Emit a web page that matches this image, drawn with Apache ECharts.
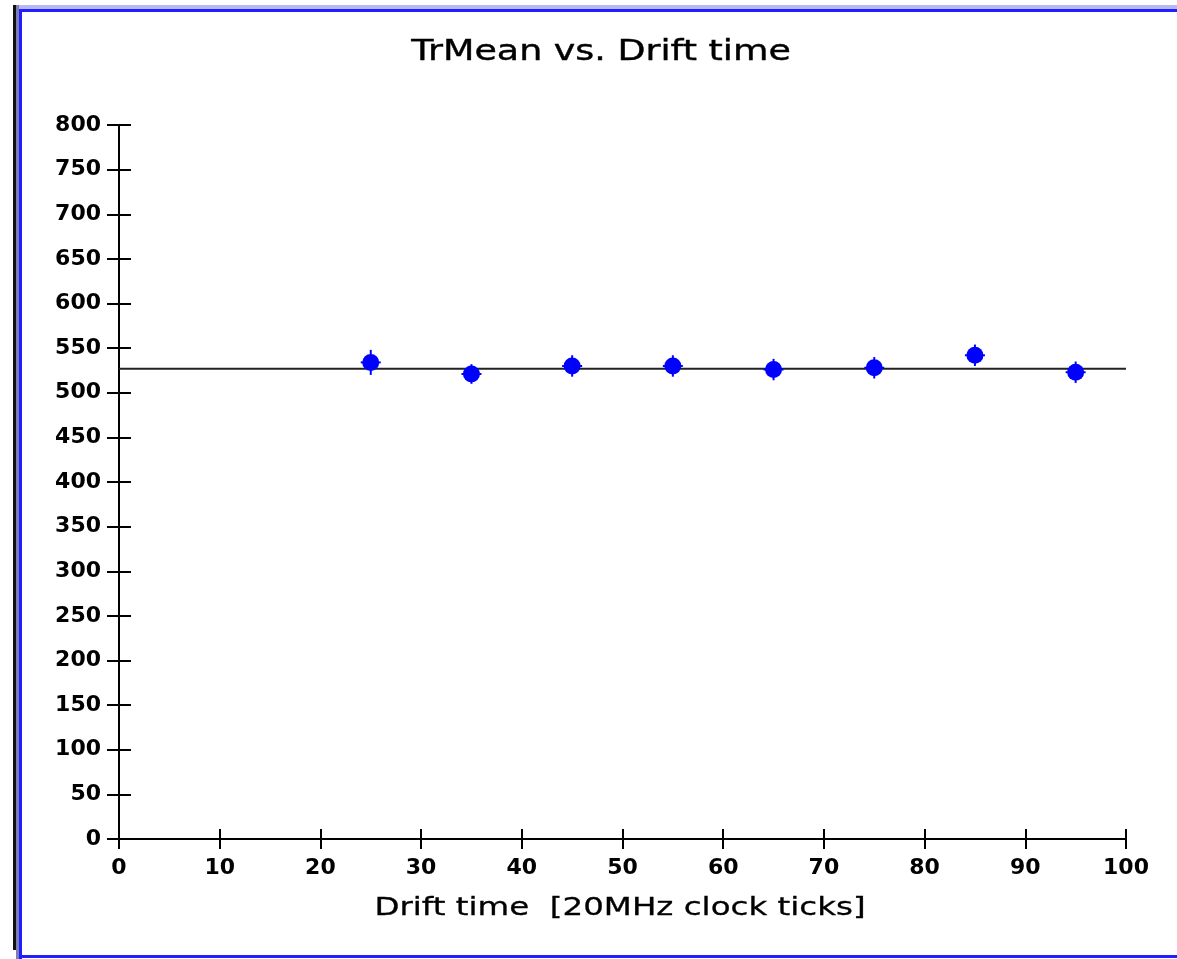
<!DOCTYPE html>
<html>
<head>
<meta charset="utf-8">
<script src="https://cdn.jsdelivr.net/npm/echarts@6/dist/echarts.min.js"></script>
<style>
html,body{margin:0;padding:0;background:#fff;}
#wrap{position:relative;width:1177px;height:959px;overflow:hidden;background:#fff;}
#chart{position:absolute;left:0;top:0;width:1177px;height:959px;}
.fr{position:absolute;}
</style>
</head>
<body>
<div id="wrap">
<div id="chart"></div>
<div class="fr" style="left:13px;top:5px;width:1164px;height:4px;background:#b8b8f4;"></div>
<div class="fr" style="left:19px;top:9px;width:1158px;height:3px;background:#2020ff;"></div>
<div class="fr" style="left:13px;top:5px;width:3px;height:945px;background:#111;"></div>
<div class="fr" style="left:16px;top:5px;width:3px;height:954px;background:#8080b0;"></div>
<div class="fr" style="left:19px;top:9px;width:3px;height:950px;background:#2020ff;"></div>
<div class="fr" style="left:19px;top:955px;width:1158px;height:3px;background:#2020ff;"></div>
</div>
<script>
// ---- data ----
const title = 'TrMean vs. Drift time';
const xTitle = 'Drift time  [20MHz clock ticks]';
const driftTime = [25, 35, 45, 55, 65, 75, 85, 95];
const trMean    = [534, 521, 530, 530, 526, 528, 542, 523];
const trMeanErr = [14, 11, 12, 12, 12, 12, 12, 12];
const fitValue = 527;
const fitRange = [0, 100];
const xMin = 0, xMax = 100, xStep = 10;
const yMin = 0, yMax = 800, yStep = 50;

const points = driftTime.map((x, i) => [x, trMean[i], trMeanErr[i]]);
const fitLine = fitRange.map(x => [x, fitValue]);

const chart = echarts.init(document.getElementById('chart'), null, {renderer: 'canvas'});
const labelFont = {color: '#000', fontFamily: 'DejaVu Sans', fontWeight: 'bold', fontSize: 22};
const axisLine = {show: true, lineStyle: {color: '#000', width: 2}};

function yAx(inside, show) {
  return {
    type: 'value', min: yMin, max: yMax, interval: yStep, position: 'left',
    axisLine: axisLine,
    axisTick: {show: true, inside: inside, length: 12, lineStyle: {color: '#000', width: 2}},
    axisLabel: Object.assign({show: show, margin: 18}, labelFont),
    splitLine: {show: false}
  };
}
function xAx(inside, show) {
  return {
    type: 'value', min: xMin, max: xMax, interval: xStep, position: 'bottom',
    axisLine: axisLine,
    axisTick: {show: true, inside: inside, length: 10, lineStyle: {color: '#000', width: 2}},
    axisLabel: Object.assign({show: show, margin: 18}, labelFont),
    splitLine: {show: false}
  };
}

chart.setOption({
  animation: false,
  backgroundColor: 'transparent',
  graphic: [
    {type: 'text', x: 601, y: 53, scaleX: 1.3, scaleY: 1,
     style: {text: title, fill: '#000', font: 'normal 28px "DejaVu Sans"', align: 'center', verticalAlign: 'middle', stroke: '#000', lineWidth: 0.4}},
    {type: 'text', x: 620, y: 908, scaleX: 1.3, scaleY: 1,
     style: {text: xTitle, fill: '#000', font: 'normal 25px "DejaVu Sans"', align: 'center', verticalAlign: 'middle', stroke: '#000', lineWidth: 0.3}}
  ],
  grid: {left: 119, right: 51, top: 125, bottom: 120, containLabel: false},
  xAxis: [xAx(false, true), xAx(true, false)],
  yAxis: [yAx(false, true), yAx(true, false)],
  series: [
    {
      type: 'line', data: fitLine, xAxisIndex: 0, yAxisIndex: 0,
      showSymbol: false, symbol: 'none',
      lineStyle: {color: '#222', width: 2}, z: 2
    },
    {
      type: 'custom', xAxisIndex: 0, yAxisIndex: 0, data: points, z: 3,
      renderItem: function (params, api) {
        const x = api.value(0), y = api.value(1), e = api.value(2);
        const c = api.coord([x, y]);
        const top = api.coord([x, y + e]);
        const bot = api.coord([x, y - e]);
        return {
          type: 'group',
          children: [
            {type: 'line', shape: {x1: c[0], y1: top[1], x2: c[0], y2: bot[1]},
             style: {stroke: '#0000ff', lineWidth: 2}},
            {type: 'line', shape: {x1: c[0] - 10, y1: c[1], x2: c[0] + 10, y2: c[1]},
             style: {stroke: '#0000ff', lineWidth: 2}}
          ]
        };
      }
    },
    {
      type: 'scatter', data: points, xAxisIndex: 0, yAxisIndex: 0,
      symbol: 'circle', symbolSize: 17,
      itemStyle: {color: '#0000ff', opacity: 1}, z: 4
    }
  ]
});
</script>
</body>
</html>
